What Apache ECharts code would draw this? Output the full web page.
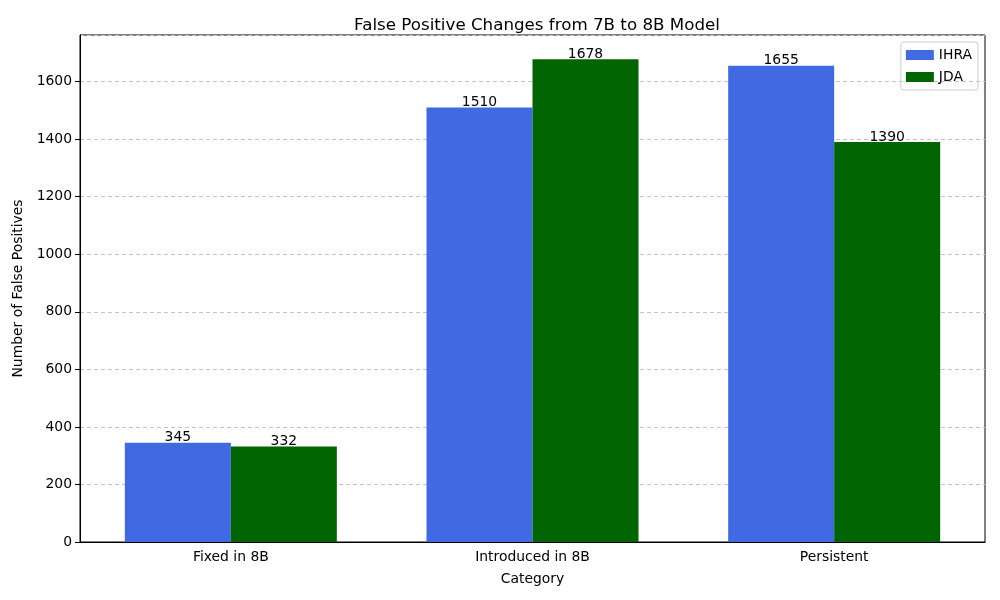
<!DOCTYPE html>
<html>
<head>
<meta charset="utf-8">
<script src="https://cdn.jsdelivr.net/npm/echarts@6/dist/echarts.min.js"></script>
<style>
  html, body { margin: 0; padding: 0; background: #fff; }
  #chart { width: 1000px; height: 600px; }
</style>
</head>
<body>
<div id="chart"></div>
<script>
// data
var categories = ['Fixed in 8B', 'Introduced in 8B', 'Persistent'];
var ihraValues = [345, 1510, 1655];
var jdaValues = [332, 1678, 1390];

var chart = echarts.init(document.getElementById('chart'));

var fs = 13.9;
var labelStyle = {
  show: true,
  position: 'top',
  distance: -2,
  color: '#000',
  fontSize: fs,
  fontFamily: 'DejaVu Sans'
};

var option = {
  animation: false,
  textStyle: { fontFamily: 'DejaVu Sans' },
  title: {
    text: 'False Positive Changes from 7B to 8B Model',
    left: 532, top: 12,
    textAlign: 'center',
    textStyle: { fontSize: 16.7, fontWeight: 'normal', color: '#000', fontFamily: 'DejaVu Sans' }
  },
  legend: {
    right: 22, top: 42,
    orient: 'vertical',
    icon: 'rect',
    itemWidth: 28, itemHeight: 10,
    itemGap: 8,
    padding: [6, 6, 6, 5],
    borderColor: '#ccc', borderWidth: 1, borderRadius: 3,
    textStyle: { fontSize: fs, color: '#000' },
    data: ['IHRA', 'JDA']
  },
  grid: {
    left: 80, right: 15, top: 35, bottom: 58,
    show: true, borderColor: '#000', borderWidth: 1
  },
  xAxis: {
    type: 'category',
    data: categories,
    name: 'Category',
    nameLocation: 'middle',
    nameGap: 30,
    nameTextStyle: { fontSize: fs, color: '#000' },
    axisLine: { lineStyle: { color: '#000' } },
    axisTick: { alignWithLabel: true, lineStyle: { color: '#000' } },
    axisLabel: { color: '#000', fontSize: fs, margin: 8 }
  },
  yAxis: {
    type: 'value',
    min: 0, max: 1762, interval: 200,
    name: 'Number of False Positives',
    nameLocation: 'middle',
    nameGap: 49,
    nameTextStyle: { fontSize: fs, color: '#000' },
    axisLine: { show: true, lineStyle: { color: '#000' } },
    axisTick: { show: true, lineStyle: { color: '#000' } },
    axisLabel: { color: '#000', fontSize: fs, showMaxLabel: false, formatter: function (v) { return String(v); } },
    splitLine: { lineStyle: { type: [4, 3], color: '#c4c4c4' } }
  },
  series: [
    {
      name: 'IHRA', type: 'bar', data: ihraValues,
      barWidth: 106, barGap: '0%',
      itemStyle: { color: '#4169E1' },
      label: labelStyle
    },
    {
      name: 'JDA', type: 'bar', data: jdaValues,
      barWidth: 106, barGap: '0%',
      itemStyle: { color: '#006400' },
      label: labelStyle
    }
  ]
};

chart.setOption(option);
</script>
</body>
</html>
